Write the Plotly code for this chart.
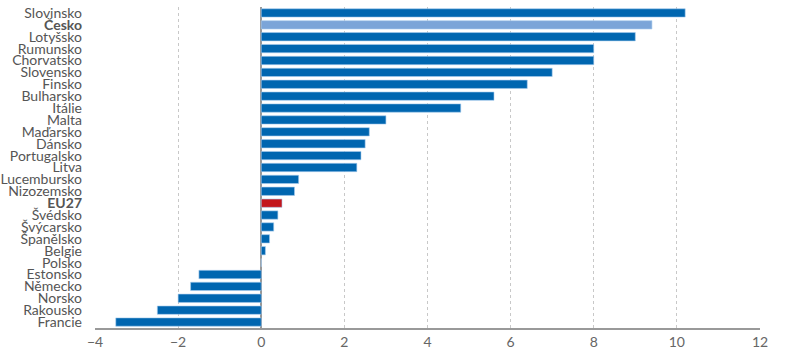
import plotly.graph_objects as go

countries = ["Slovinsko", "Česko", "Lotyšsko", "Rumunsko", "Chorvatsko", "Slovensko", "Finsko",
             "Bulharsko", "Itálie", "Malta", "Maďarsko", "Dánsko", "Portugalsko", "Litva",
             "Lucembursko", "Nizozemsko", "EU27", "Švédsko", "Švýcarsko", "Španělsko", "Belgie",
             "Polsko", "Estonsko", "Německo", "Norsko", "Rakousko", "Francie"]
values = [10.2, 9.4, 9.0, 8.0, 8.0, 7.0, 6.4, 5.6, 4.8, 3.0, 2.6, 2.5, 2.4, 2.3,
          0.9, 0.8, 0.5, 0.4, 0.3, 0.2, 0.1, 0.0, -1.5, -1.7, -2.0, -2.5, -3.5]
bold = ["Česko", "EU27"]
x_ticks = [-4, -2, 0, 2, 4, 6, 8, 10, 12]
x_ticklabels = ["−4", "−2", "0", "2", "4", "6", "8", "10", "12"]

colors = []
for c in countries:
    if c == "Česko":
        colors.append("#7ba5d8")
    elif c == "EU27":
        colors.append("#c3161c")
    else:
        colors.append("#0066b0")
ticktext = [f"<b>{c}</b>" if c in bold else c for c in countries]

fig = go.Figure(go.Bar(
    x=values, y=countries, orientation="h",
    marker=dict(color=colors, line=dict(color="#a8cdee", width=0.6)),
    width=0.7,
))
fig.update_layout(
    width=800, height=350,
    margin=dict(l=95, r=40, t=7, b=22),
    plot_bgcolor="white", paper_bgcolor="white",
    showlegend=False,
    font=dict(family="Lato, Open Sans, sans-serif", color="#555555", size=14),
)
fig.update_xaxes(
    range=[-4, 12], tickvals=x_ticks, ticktext=x_ticklabels,
    showgrid=True, gridcolor="#c8c8c8", griddash="dot", gridwidth=1,
    zeroline=True, zerolinecolor="#999999", zerolinewidth=1.5,
    showline=True, linecolor="#999999", linewidth=1.5,
    ticks="", ticklen=0, tickfont=dict(size=14, color="#666666"),
    automargin=False, ticklabelstandoff=0,
)
fig.update_yaxes(
    categoryorder="array", categoryarray=countries[::-1],
    tickvals=countries, ticktext=ticktext,
    range=[-0.5, len(countries) - 0.5],
    showgrid=False, zeroline=False, showline=False,
    ticks="", ticklen=0, ticklabelstandoff=12, tickfont=dict(size=14, color="#555555"),
    automargin=False,
)
fig.write_html("out.html")
